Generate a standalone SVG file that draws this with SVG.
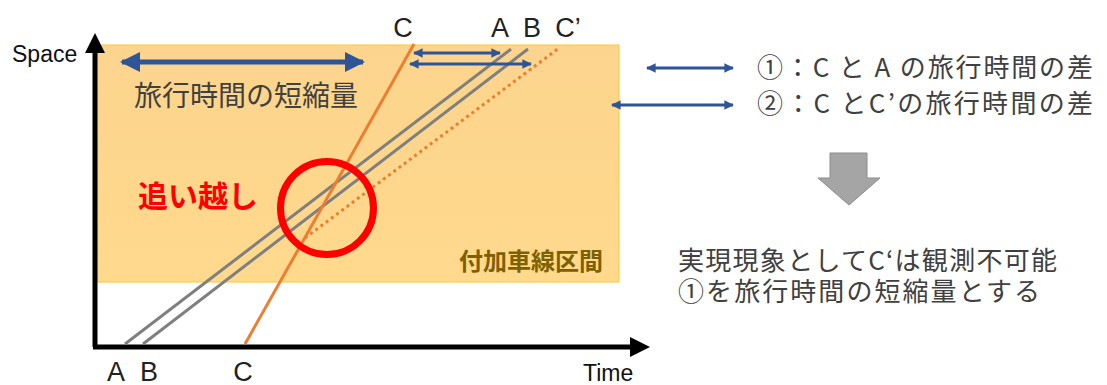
<svg xmlns="http://www.w3.org/2000/svg" width="1107" height="385" viewBox="0 0 1107 385">
<defs>
<linearGradient id="zone" x1="0" y1="0" x2="0" y2="1">
<stop offset="0" stop-color="#FCD48E"/>
<stop offset="1" stop-color="#FFD98C"/>
</linearGradient>
<marker id="bh" viewBox="0 0 10 10" refX="9" refY="5" markerWidth="4" markerHeight="4" orient="auto-start-reverse" markerUnits="strokeWidth">
<path d="M0,0 L10,5 L0,10 Z" fill="#2F5597"/>
</marker>
<marker id="bs" viewBox="0 0 10 10" refX="9" refY="5" markerWidth="4" markerHeight="3.2" orient="auto-start-reverse" markerUnits="strokeWidth">
<path d="M0,0 L10,5 L0,10 Z" fill="#2F5597"/>
</marker>
</defs>
<style>
.jp{font-family:"Noto Sans CJK JP","Noto Sans",sans-serif;fill:#404040}
.lab{font-family:"Liberation Sans",Arial,sans-serif;font-size:27px;fill:#222;text-anchor:middle}
.ax{font-family:"Liberation Sans",Arial,sans-serif;font-size:23px;fill:#111}
.traj{fill:none;stroke-width:3}
.blue{stroke:#2F5597;fill:none}
</style>

<g id="zone-node">
<rect x="97" y="45" width="522" height="237" fill="url(#zone)" stroke="#FFC72C" stroke-width="1"/>
<text x="603" y="270" text-anchor="end" style="font-family:'Noto Sans CJK JP',sans-serif;font-size:24px;font-weight:bold;fill:#7F6000">付加車線区間</text>
</g>

<g id="axes">
<line x1="95" y1="347" x2="95" y2="50" stroke="#000" stroke-width="5"/>
<path d="M95,33 L105,53 L85,53 Z" fill="#000"/>
<line x1="93" y1="347" x2="632" y2="347" stroke="#000" stroke-width="5"/>
<path d="M650,347 L630,337 L630,357 Z" fill="#000"/>
<text class="ax" x="12" y="62">Space</text>
<text class="ax" x="583" y="381">Time</text>
</g>

<g id="trajectories">
<line class="traj" x1="125" y1="344" x2="511" y2="49" stroke="#7F7F7F"/>
<line class="traj" x1="143" y1="344" x2="528" y2="49" stroke="#7F7F7F"/>
<line class="traj" x1="245" y1="344" x2="414" y2="44" stroke="#ED7D31"/>
<line class="traj" x1="305" y1="238" x2="559" y2="48" stroke="#ED7D31" stroke-dasharray="3 3.5"/>
</g>

<g id="traj-labels">
<text class="lab" x="116" y="381">A</text>
<text class="lab" x="149" y="381">B</text>
<text class="lab" x="243" y="381">C</text>
<text class="lab" x="403" y="37">C</text>
<text class="lab" x="500" y="37">A</text>
<text class="lab" x="532" y="37">B</text>
<text class="lab" x="568" y="37">C’</text>
</g>

<g id="overtake">
<circle cx="327" cy="208" r="46.5" fill="none" stroke="#FF0000" stroke-width="7"/>
<text x="138" y="207" style="font-family:'Noto Sans CJK JP',sans-serif;font-size:30px;font-weight:bold;fill:#FF0000">追い越し</text>
</g>

<g id="connectors">
<line class="blue" x1="122" y1="62" x2="363" y2="62" stroke-width="5" marker-start="url(#bh)" marker-end="url(#bh)"/>
<line class="blue" x1="414" y1="53" x2="500" y2="53" stroke-width="3" marker-start="url(#bs)" marker-end="url(#bs)"/>
<line class="blue" x1="410" y1="64" x2="531" y2="64" stroke-width="3" marker-start="url(#bs)" marker-end="url(#bs)"/>
<line class="blue" x1="647" y1="68" x2="733" y2="68" stroke-width="3" marker-start="url(#bs)" marker-end="url(#bs)"/>
<line class="blue" x1="612" y1="105" x2="733" y2="105" stroke-width="3" marker-start="url(#bs)" marker-end="url(#bs)"/>
</g>

<g id="shorten-label">
<text class="jp" x="134" y="106" font-size="28" textLength="224" lengthAdjust="spacingAndGlyphs">旅行時間の短縮量</text>
</g>

<g id="legend">
<text class="jp" x="757" y="77" font-size="26" textLength="336" lengthAdjust="spacing">①：C と A の旅行時間の差</text>
<text class="jp" x="757" y="113" font-size="26" textLength="336" lengthAdjust="spacing">②：C とC’の旅行時間の差</text>
</g>

<g id="down-arrow">
<path d="M830,153 L867,153 L867,178 L880,178 L849,205 L818,178 L830,178 Z" fill="#A5A5A5" stroke="#8C8C8C" stroke-width="1"/>
</g>

<g id="conclusion">
<text class="jp" x="678" y="270" font-size="26" textLength="379" lengthAdjust="spacing">実現現象としてC‘は観測不可能</text>
<text class="jp" x="678" y="301" font-size="26" textLength="362" lengthAdjust="spacing">①を旅行時間の短縮量とする</text>
</g>
</svg>
